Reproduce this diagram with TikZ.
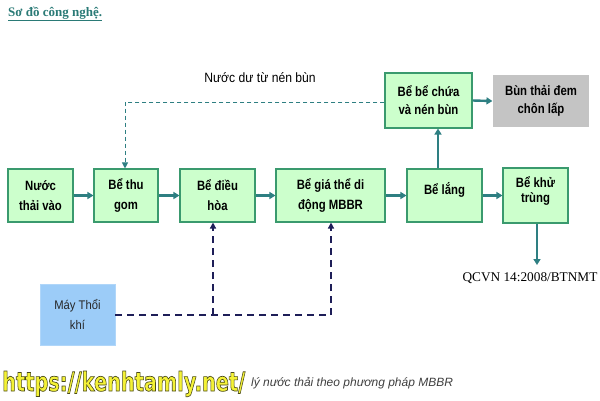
\documentclass[tikz,border=0pt]{standalone}
\usepackage{fontspec}
\usepackage{graphicx}
\setmainfont{Liberation Serif}
\newfontfamily\boxfont[FakeStretch=0.84]{Liberation Sans}
\newfontfamily\labfont[FakeStretch=0.9]{Liberation Sans}
\newfontfamily\capfont{Liberation Sans}
\newfontfamily\wmfont[FakeStretch=0.92,FakeBold=2.6]{DejaVu Sans Bold}
\usetikzlibrary{arrows.meta}
\definecolor{boxfill}{HTML}{CCFFCC}
\definecolor{boxline}{HTML}{3A9A6E}
\definecolor{arrcol}{HTML}{2E7F82}
\definecolor{navy}{HTML}{1E1E58}
\definecolor{blowfill}{HTML}{9CCCF8}
\definecolor{grayfill}{HTML}{C4C4C4}
\definecolor{titlecol}{HTML}{2A7A76}
\definecolor{wmyellow}{HTML}{F4F236}
\tikzset{
  procbox/.style={draw=boxline, line width=1.1pt, fill=boxfill, align=center,
    font=\boxfont\bfseries\fontsize{13.5}{20}\selectfont, inner sep=0pt},
  flow/.style={draw=arrcol, line width=2.4pt, -{Triangle[length=6pt,width=7pt]}},
  sludge/.style={draw=arrcol, line width=1pt, dash pattern=on 4pt off 3pt, -{Triangle[length=6pt,width=6pt]}},
  air/.style={draw=navy, line width=2.1pt, dash pattern=on 7pt off 5pt},
  airarr/.style={air, -{Triangle[length=6pt,width=6pt]}},
}
\begin{document}
\begin{tikzpicture}[x=1pt,y=-1pt]
\useasboundingbox[fill=white] (0,0) rectangle (600,400);

% title
\node[anchor=base west, text=titlecol, font=\bfseries\fontsize{13}{15}\selectfont, inner sep=0pt] (title) at (8,16) {\underline{Sơ đồ công nghệ.}};

% process boxes
\node[procbox, minimum width=65pt, minimum height=53pt] (n1) at (40.5,195.5) {Nước\\thải vào};
\node[procbox, minimum width=64pt, minimum height=53pt] (n2) at (126,195.5) {Bể thu\\gom};
\node[procbox, minimum width=75pt, minimum height=53pt] (n3) at (217.5,195.5) {Bể điều\\hòa};
\node[procbox, minimum width=109pt, minimum height=53pt] (n4) at (330.5,195.5) {Bể giá thể di\\động MBBR};
\node[procbox, minimum width=75pt, minimum height=53pt] (n5) at (444.5,195.5) {Bể lắng\\[-5pt]};
\node[procbox, minimum width=65pt, minimum height=55pt] (n6) at (535.5,195.5) {Bể khử\\[-5pt]trùng\\[-9pt]};
\node[procbox, minimum width=87pt, minimum height=55pt] (n7) at (428.5,100.5) {Bể bể chứa\\[-2pt]và nén bùn};
\node[procbox, draw=none, fill=grayfill, minimum width=96pt, minimum height=52pt] (n8) at (541,101) {Bùn thải đem\\[-2pt]chôn lấp};
\node[draw=blowfill!80!white, line width=0.6pt, fill=blowfill, align=center, minimum width=75pt, minimum height=61pt, inner sep=0pt,
  font=\labfont\fontsize{12.5}{20}\selectfont, text=black!85] (n9) at (77.5,314.5) {Máy Thổi\\khí};

% main flow
\draw[flow] (n1.east) -- (n2.west);
\draw[flow] (n2.east) -- (n3.west);
\draw[flow] (n3.east) -- (n4.west);
\draw[flow] (n4.east) -- (n5.west);
\draw[flow] (n5.east) -- (n6.west);
\draw[flow] (n5.north -| 438,0) -- (n7.south -| 438,0);
\draw[flow] (n7.east) -- (n8.west);
\coordinate (outend) at (537,265);
\draw[flow, line width=1.8pt] (n6.south -| outend) -- (outend);
\node[font=\fontsize{13.3}{15}\selectfont, inner sep=0pt] (qcvn) at (530,278) {QCVN 14:2008/BTNMT};

% sludge return
\coordinate (r1) at (125,102);
\draw[sludge] (n7.west |- r1) -- (r1) -- (n2.north -| r1);
\node[font=\labfont\fontsize{13.5}{15}\selectfont, inner sep=0pt] (rlab) at (260,78) {Nước dư từ nén bùn};

% air lines
\coordinate (a1) at (213,315);
\coordinate (a2) at (331,315);
\draw[air] (n9.east |- a1) -- (a2);
\draw[airarr] (a1) -- (n3.south -| a1);
\draw[airarr] (a2) -- (n4.south -| a2);

% caption
\node[anchor=base west, inner sep=0pt, text=black!75, font=\capfont\itshape\fontsize{12}{14}\selectfont] (cap) at (251,386) {lý nước thải theo phương pháp MBBR};

% watermark
\node[anchor=base west, inner sep=0pt, text=wmyellow] (wm) at (2,391) {\resizebox{243pt}{20pt}{\special{pdf:code 0.29 0.29 0.1 RG}\wmfont https://kenhtamly.net/}};
\end{tikzpicture}
\end{document}
